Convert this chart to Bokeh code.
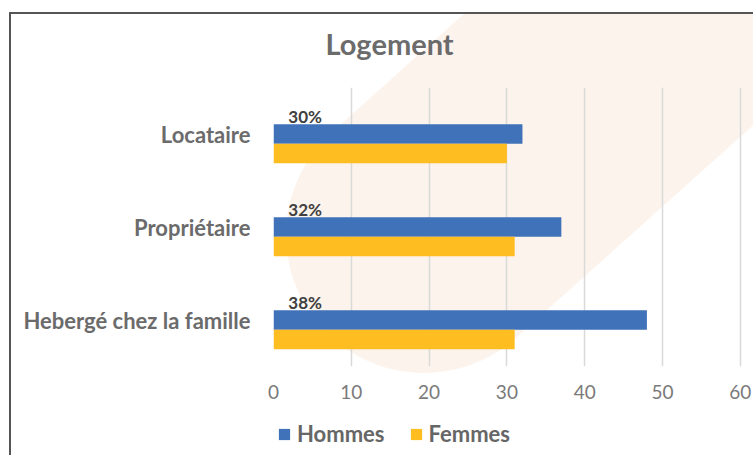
from bokeh.plotting import figure
from bokeh.layouts import column
from bokeh.models import (FactorRange, Range1d, Legend, LegendItem, FixedTicker,
                          ColumnDataSource, Title)
from bokeh.transform import dodge
from bokeh.core.properties import value
from bokeh.embed import file_html
from bokeh.resources import INLINE

# ---- data ----
title_text = "Logement"
categories = ["Locataire", "Propriétaire", "Hebergé chez la famille"]
hommes = [32, 37, 48]
femmes = [30, 31, 31]
pct_labels = ["30%", "32%", "38%"]
series_names = ["Hommes", "Femmes"]
x_ticks = [0, 10, 20, 30, 40, 50, 60]

# ---- styles ----
FONT = "Lato"
BLUE = "#4072BA"
ORANGE = "#FEBD20"

source = ColumnDataSource(dict(cat=categories, hommes=hommes, femmes=femmes, pct=pct_labels))

p = figure(width=742, height=396,
           y_range=FactorRange(factors=list(reversed(categories))),
           x_range=Range1d(0, 60.8),
           output_backend="svg", toolbar_location=None,
           min_border_left=262, min_border_right=7,
           min_border_top=73, min_border_bottom=44)

r_h = p.hbar(y=dodge("cat", 0, range=p.y_range), left=0, right="hommes", height=0.21,
             source=source, fill_color=BLUE, line_color=None)
r_f = p.hbar(y=dodge("cat", -0.21, range=p.y_range), left=0, right="femmes", height=0.21,
             source=source, fill_color=ORANGE, line_color=None)

p.text(x=1.9, y=dodge("cat", 0.19, range=p.y_range), text="pct", source=source,
       text_font=value(FONT), text_font_style="bold", text_font_size="17px",
       text_color="#404040", text_align="left", text_baseline="middle")

# title: built-in title left empty; spacer nearest frame, then the real title
p.title.text = ""
p.title.standoff = 0
p.add_layout(Title(text=" ", text_font_size="22px", standoff=0), "above")
p.add_layout(Title(text=title_text, align="left", offset=52, standoff=0,
                   text_font=FONT, text_font_size="29px", text_font_style="bold",
                   text_color="#6b6b6b"), "above")

# axes
p.xaxis.ticker = FixedTicker(ticks=x_ticks)
p.xaxis.axis_line_color = None
p.xaxis.major_tick_line_color = None
p.xaxis.major_tick_out = 0
p.xaxis.minor_tick_line_color = None
p.xaxis.major_label_text_font = FONT
p.xaxis.major_label_text_font_size = "19px"
p.xaxis.major_label_text_color = "#7a7a7a"
p.xaxis.major_label_standoff = 18

p.yaxis.axis_line_color = None
p.yaxis.major_tick_line_color = None
p.yaxis.major_tick_out = 0
p.yaxis.minor_tick_line_color = None
p.yaxis.major_label_text_font = FONT
p.yaxis.major_label_text_font_style = "bold"
p.yaxis.major_label_text_font_size = "22px"
p.yaxis.major_label_text_color = "#6b6b6b"
p.yaxis.major_label_standoff = 23

p.ygrid.grid_line_color = None
p.xgrid.ticker = FixedTicker(ticks=x_ticks)
p.xgrid.grid_line_color = "#d9d9d9"
p.xgrid.grid_line_width = 1.5
p.outline_line_color = None
p.background_fill_color = None
p.border_fill_color = None

# ---- legend strip below the chart (its frame is aligned with the chart frame) ----
lf = figure(width=742, height=45, x_range=Range1d(0, 1), y_range=Range1d(0, 1),
            x_axis_type=None, y_axis_type=None, min_border=0,
            output_backend="svg", toolbar_location=None)
lf.title.text = ""
lf.title.standoff = 0
lf.outline_line_color = None
lf.background_fill_color = None
lf.border_fill_color = None
# zero-size proxy glyphs, only used to draw the legend swatches
lg_h = lf.quad(left=[0], right=[0], bottom=[0], top=[0], fill_color=BLUE, line_color=None)
lg_f = lf.quad(left=[0], right=[0], bottom=[0], top=[0], fill_color=ORANGE, line_color=None)

legend = Legend(items=[LegendItem(label=series_names[0], renderers=[lg_h]),
                       LegendItem(label=series_names[1], renderers=[lg_f])],
                location=(4, 8), orientation="horizontal", padding=2, margin=0,
                spacing=24, label_standoff=6, glyph_width=14, glyph_height=14,
                label_text_font=FONT, label_text_font_style="bold",
                label_text_font_size="22px", label_text_color="#666666",
                border_line_color=None, background_fill_alpha=0)
lf.add_layout(legend)

svg_bg = ("<svg xmlns='http://www.w3.org/2000/svg' width='742' height='441'>"
          "<line x1='413' y1='221' x2='934' y2='-246' stroke='%23FCF3EC' "
          "stroke-width='276' stroke-linecap='round'/></svg>")
layout = column(p, lf, spacing=0, styles={
    "margin-top": "12px",
    "margin-left": "9px",
    "border-top": "2px solid #555555",
    "border-left": "2px solid #555555",
    "background": 'url("data:image/svg+xml;utf8,' + svg_bg + '") no-repeat',
})

open("out.html", "w").write(file_html(layout, INLINE))
